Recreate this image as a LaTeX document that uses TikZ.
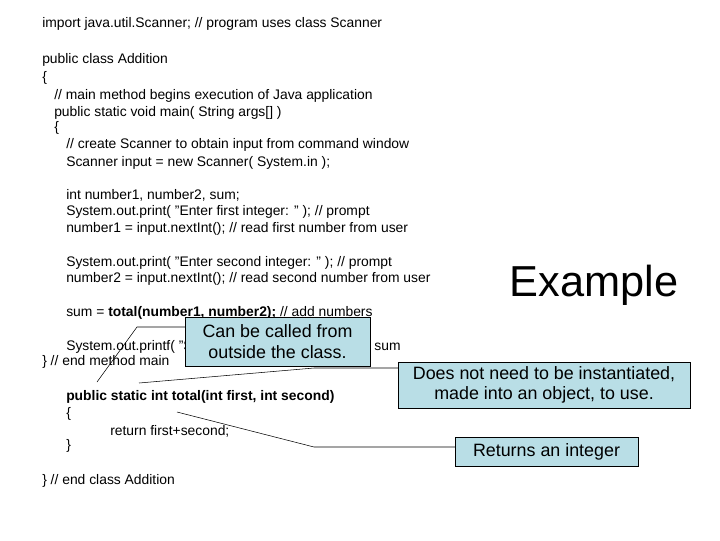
\documentclass[tikz,border=0pt]{standalone}
\usepackage{fontspec}
\setmainfont{Liberation Sans}
\begin{document}
\begin{tikzpicture}
    [x=0.75pt, y=-0.75pt,
     code/.style={anchor=west, inner sep=0pt, font=\fontsize{10.4}{12}\selectfont},
     callout/.style={draw=black, align=center, inner sep=1pt, font=\fontsize{13.4}{15.2}\selectfont},
     lnk/.style={draw=black, thin},
    ]
    \useasboundingbox (0,0) rectangle (720,540);
    \definecolor{calloutblue}{RGB}{185,222,230}

    % code listing
    \node[code] (l1) at (42,24) {import java.util.Scanner; // program uses class Scanner};
    \node[code] (l2) at (42,60) {public class Addition};
    \node[code] (l3) at (42,78) {\{};
    \node[code] (l4) at (54,96) {// main method begins execution of Java application};
    \node[code] (l5) at (54,113) {public static void main( String args[] )};
    \node[code] (l6) at (54,128) {\{};
    \node[code] (l7) at (66,145) {// create Scanner to obtain input from command window};
    \node[code] (l8) at (66,163) {Scanner input = new Scanner( System.in );};
    \node[code] (l9) at (66,195) {int number1, number2, sum;};
    \node[code] (l10) at (66,212) {System.out.print( "Enter first integer: " ); // prompt};
    \node[code] (l11) at (66,229) {number1 = input.nextInt(); // read first number from user};
    \node[code] (l12) at (66,263) {System.out.print( "Enter second integer: " ); // prompt};
    \node[code] (l13) at (66,279) {number2 = input.nextInt(); // read second number from user};
    \node[code] (l14) at (66,313) {sum = \textbf{total(number1, number2);} // add numbers};
    \node[code] (l15) at (66,347) {System.out.printf( "Sum is \%d\textbackslash n", sum ); // display sum};
    \node[code] (l16) at (42,362) {\} // end method main};
    \node[code] (l17) at (66,397) {\textbf{public static int total(int first, int second)}};
    \node[code] (l18) at (66,414) {\{};
    \node[code] (l19) at (110,431) {return first+second;};
    \node[code] (l20) at (66,446) {\}};
    \node[code] (l21) at (42,481) {\} // end class Addition};

    % title
    \node[anchor=center, inner sep=0pt, font=\fontsize{32.5}{36}\selectfont] (example) at (594,285) {Example};

    % callouts
    \coordinate (c1a) at (137,327);
    \coordinate (c1b) at (97,382);
    \coordinate (c2a) at (314,368);
    \coordinate (c2b) at (139,383);
    \coordinate (c3a) at (314,447);
    \coordinate (c3b) at (177,412);

    \draw[lnk] (185,327) -- (c1a) -- (c1b);
    \draw[lnk] (398,368) -- (c2a) -- (c2b);
    \draw[lnk] (455,447) -- (c3a) -- (c3b);

    \node[callout, fill=calloutblue, minimum width=139pt, minimum height=36.5pt] (static) at (277.5,341.5)
        {Can be called from\\outside the class.};
    \node[callout, fill=calloutblue, minimum width=219pt, minimum height=34.5pt] (instance) at (544,385)
        {Does not need to be instantiated,\\made into an object, to use.};
    \node[callout, fill=calloutblue, minimum width=137pt, minimum height=22pt] (returns) at (546.5,452)
        {Returns an integer};
\end{tikzpicture}
\end{document}
